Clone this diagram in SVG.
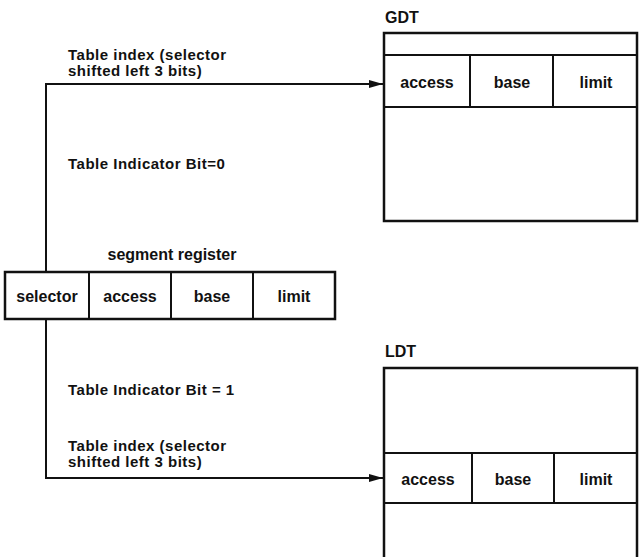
<svg xmlns="http://www.w3.org/2000/svg" width="639" height="557" viewBox="0 0 639 557">
<style>
text{font-family:"Liberation Sans",Arial,sans-serif;font-weight:bold;font-size:16px;fill:#111}
.lbl{font-size:15px;letter-spacing:0.5px}
.c{text-anchor:middle}
.box{fill:#fff;stroke:#111;stroke-width:2.5}
.ln{fill:none;stroke:#111;stroke-width:2}
</style>
<defs>
<marker id="ah" markerWidth="14" markerHeight="9" refX="14" refY="4.5" orient="auto" markerUnits="userSpaceOnUse">
<path d="M0,0.5 L14,4.5 L0,8.5 Z" fill="#111"/>
</marker>
</defs>
<g id="connectors">
<path class="ln" d="M46,272 V84 H383" marker-end="url(#ah)"/>
<path class="ln" d="M46,319 V478 H383" marker-end="url(#ah)"/>
<text class="lbl" x="68" y="60">Table index (selector</text>
<text class="lbl" x="68" y="76">shifted left 3 bits)</text>
<text class="lbl" x="68" y="169">Table Indicator Bit=0</text>
<text class="lbl" x="68" y="395">Table Indicator Bit = 1</text>
<text class="lbl" x="68" y="451">Table index (selector</text>
<text class="lbl" x="68" y="467">shifted left 3 bits)</text>
</g>
<g id="segment-register">
<text class="c" x="172" y="260">segment register</text>
<rect class="box" x="5" y="272" width="330" height="47"/>
<path class="ln" d="M89,272 V319 M171,272 V319 M253,272 V319" stroke-width="2.5"/>
<text class="c" x="47" y="302">selector</text>
<text class="c" x="130" y="302">access</text>
<text class="c" x="212" y="302">base</text>
<text class="c" x="294" y="302">limit</text>
</g>
<g id="gdt">
<text x="385" y="23">GDT</text>
<rect class="box" x="384" y="33" width="253" height="188"/>
<path class="ln" d="M384,55 H637 M384,107 H637 M470,55 V107 M553,55 V107" stroke-width="2.5"/>
<text class="c" x="427" y="88">access</text>
<text class="c" x="512" y="88">base</text>
<text class="c" x="596" y="88">limit</text>
</g>
<g id="ldt">
<text x="385" y="357">LDT</text>
<rect class="box" x="384" y="368" width="253" height="200"/>
<path class="ln" d="M384,453 H637 M384,503 H637 M472,453 V503 M554,453 V503" stroke-width="2.5"/>
<text class="c" x="428" y="485">access</text>
<text class="c" x="513" y="485">base</text>
<text class="c" x="596" y="485">limit</text>
</g>
</svg>
